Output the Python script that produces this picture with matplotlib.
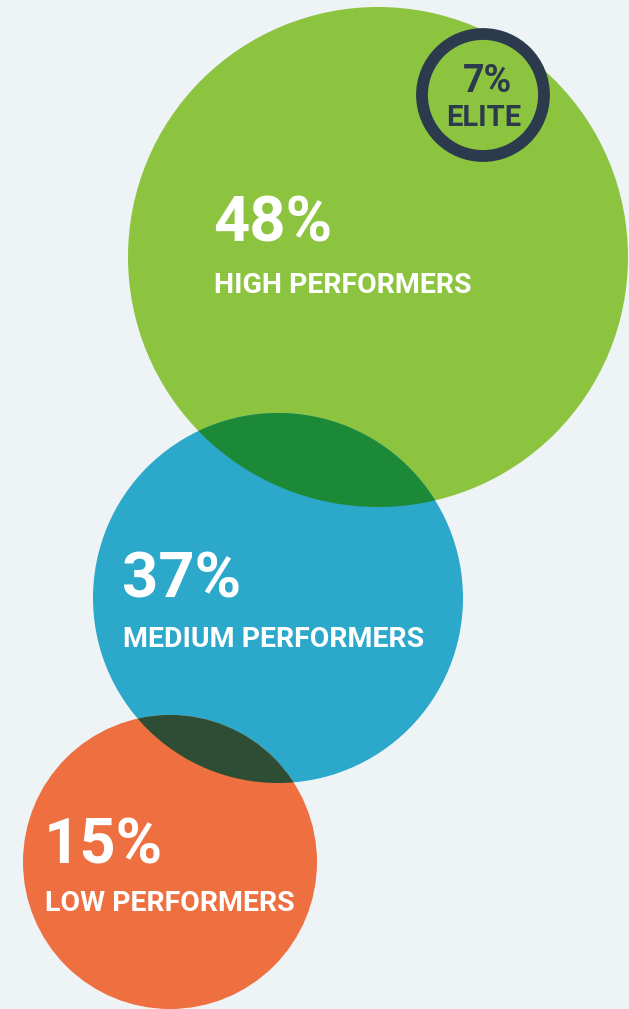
import matplotlib
matplotlib.use("Agg")
import matplotlib.pyplot as plt
from matplotlib.patches import Circle

# data
shares = [48, 37, 15]
labels = ["HIGH PERFORMERS", "MEDIUM PERFORMERS", "LOW PERFORMERS"]
elite_share = 7
elite_label = "ELITE"

# layout (pixels, y downward)
centers = [(378, 257), (278, 598), (170, 862)]
radii = [250, 185, 147]
colors = ["#8CC43F", "#2CA8CB", "#EE6F3F"]
overlap_colors = ["#1C8937", "#2E4D35"]
text_pos = [(213, 241, 293), (122, 598, 647), (44, 864, 911)]
bg = "#EEF3F6"
navy = "#2B3A4C"

plt.rcParams['font.family'] = ['Roboto', 'DejaVu Sans']

fig = plt.figure(figsize=(6.29, 10.09), dpi=100, facecolor=bg)
ax = fig.add_axes([0, 0, 1, 1])
ax.set_xlim(0, 629)
ax.set_ylim(1009, 0)
ax.set_aspect('equal')
ax.axis('off')
ax.set_facecolor(bg)

# circles
for (c, r, col) in zip(centers, radii, colors):
    ax.add_patch(Circle(c, r, facecolor=col, edgecolor='none', zorder=1))

# overlaps
for i in range(2):
    clip = Circle(centers[i], radii[i], transform=ax.transData)
    p = Circle(centers[i + 1], radii[i + 1], facecolor=overlap_colors[i],
               edgecolor='none', zorder=2)
    ax.add_patch(p)
    p.set_clip_path(clip)

# elite ring
ax.add_patch(Circle((483, 95), 61, facecolor='none', edgecolor=navy,
                    linewidth=8.5, zorder=3))
ax.text(487, 92, f"{elite_share}%", color=navy, fontsize=27, fontweight='bold',
        ha='center', va='baseline', zorder=4)
ax.text(484, 126, elite_label, color=navy, fontsize=21, fontweight='bold',
        ha='center', va='baseline', zorder=4)

# labels
for (x, yb, yl), s, lab in zip(text_pos, shares, labels):
    ax.text(x, yb, f"{s}%", color='white', fontsize=45.5, fontweight='bold',
            ha='left', va='baseline', zorder=4)
    ax.text(x + 1, yl, lab, color='white', fontsize=20.5, fontweight='bold',
            ha='left', va='baseline', zorder=4)

fig.savefig("out.png", dpi=100, facecolor=bg)
